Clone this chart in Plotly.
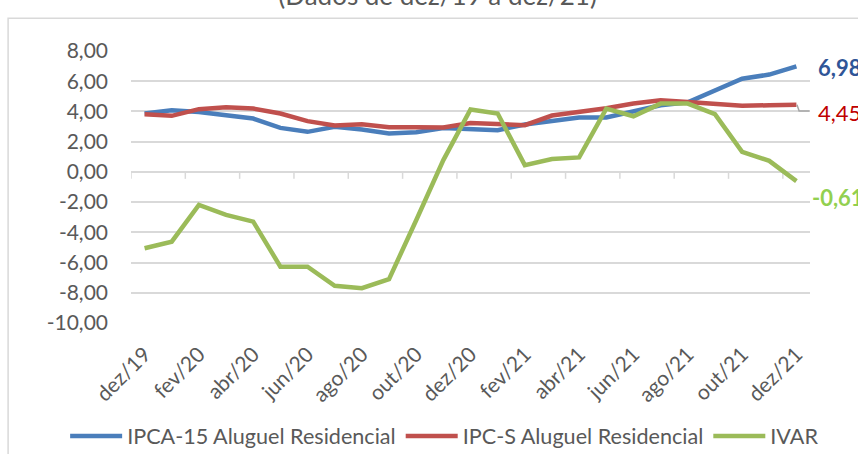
import plotly.graph_objects as go

months = ["dez/19","jan/20","fev/20","mar/20","abr/20","mai/20","jun/20","jul/20","ago/20","set/20",
          "out/20","nov/20","dez/20","jan/21","fev/21","mar/21","abr/21","mai/21","jun/21","jul/21",
          "ago/21","set/21","out/21","nov/21","dez/21"]
tick_labels = months[::2]

ipca15 = [3.86, 4.08, 3.97, 3.75, 3.53, 2.91, 2.65, 2.98, 2.80, 2.54, 2.63, 2.91, 2.80, 2.76,
          3.13, 3.38, 3.60, 3.60, 3.97, 4.41, 4.61, 5.40, 6.17, 6.44, 6.98]
ipcs = [3.82, 3.71, 4.15, 4.28, 4.19, 3.86, 3.36, 3.07, 3.16, 2.96, 2.96, 2.94, 3.24, 3.13,
        3.09, 3.73, 3.95, 4.21, 4.52, 4.74, 4.63, 4.52, 4.37, 4.41, 4.45]
ivar = [-5.05, -4.62, -2.19, -2.85, -3.29, -6.27, -6.27, -7.54, -7.70, -7.10, -3.20, 0.78, 4.13, 3.86,
        0.45, 0.85, 0.96, 4.19, 3.68, 4.52, 4.52, 3.82, 1.33, 0.73, -0.61]

series_names = ["IPCA-15 Aluguel Residencial", "IPC-S Aluguel Residencial", "IVAR"]
series_colors = ["#4A7EBB", "#C0504D", "#9BBB59"]
label_colors = ["#2F5597", "#C00000", "#92D050"]
y_ticks = [8, 6, 4, 2, 0, -2, -4, -6, -8, -10]

FONT = "Lato, 'Noto Sans', sans-serif"
GREY = "#595959"

def br(v):
    return f"{v:.2f}".replace(".", ",")

fig = go.Figure()
for name, vals, col in zip(series_names, [ipca15, ipcs, ivar], series_colors):
    fig.add_trace(go.Scatter(x=months, y=vals, mode="lines", name=name,
                             line=dict(color=col, width=4.5)))

# tick marks on the horizontal axis line (at y=0), between category pairs
for k in range(0, len(months), 2):
    fig.add_shape(type="line", xref="x", yref="y", x0=k - 0.5, x1=k - 0.5, y0=0, y1=-0.46,
                  line=dict(color="#D9D9D9", width=1.5), layer="below")

# end labels
last = len(months) - 1
fig.add_annotation(x=last, y=ipca15[-1], text="<b>" + br(ipca15[-1]) + "</b>",
                   showarrow=False, xanchor="left", xshift=20, yshift=-1,
                   font=dict(family=FONT, size=22, color=label_colors[0]))
fig.add_annotation(x=last, y=ipcs[-1], text=br(ipcs[-1]),
                   showarrow=False, xanchor="left", xshift=20, yshift=-8,
                   font=dict(family=FONT, size=22, color=label_colors[1]))
fig.add_annotation(x=last, y=ivar[-1], text="<b>" + br(ivar[-1]) + "</b>",
                   showarrow=False, xanchor="left", xshift=14, yshift=-16,
                   font=dict(family=FONT, size=22, color=label_colors[2]))
# leader line for IPC-S label
yl = ipcs[-1]
fig.add_shape(type="path", xref="x", yref="y",
              path=f"M {last+0.02},{yl} L {last+0.1},{yl-0.42} L {last+0.48},{yl-0.42}",
              line=dict(color="#A6A6A6", width=1.5))

# chart-area border
fig.add_shape(type="rect", xref="paper", yref="paper", x0=-0.181, x1=1.3, y0=-0.7, y1=1.12,
              line=dict(color="#D9D9D9", width=1.5), fillcolor="rgba(0,0,0,0)", layer="below")

fig.update_layout(
    width=858, height=454,
    margin=dict(l=131, r=48, t=51, b=131, autoexpand=False),
    paper_bgcolor="white", plot_bgcolor="white",
    font=dict(family=FONT, color=GREY, size=21),
    title=dict(text="(Dados de dez/19 a dez/21)", x=0.51, xanchor="center",
               y=1 - 5 / 454, yanchor="bottom", font=dict(family=FONT, size=26, color=GREY)),
    showlegend=True,
    legend=dict(orientation="h", x=-0.097, xanchor="left", y=-0.417, yanchor="middle",
                font=dict(family=FONT, size=21.6, color=GREY), itemwidth=52,
                bgcolor="rgba(0,0,0,0)"),
    xaxis=dict(type="category", range=[-0.5, len(months) - 0.5], tickmode="array",
               tickvals=tick_labels, ticktext=tick_labels, tickangle=-45,
               showgrid=False, zeroline=False, showline=False, ticks="",
               ticklabelstandoff=14, automargin=False,
               tickfont=dict(family=FONT, size=21, color=GREY)),
    yaxis=dict(range=[-10, 8], tickvals=y_ticks,
               ticktext=[br(v) for v in y_ticks],
               showgrid=True, gridcolor="#D9D9D9", gridwidth=1.5, zeroline=False,
               showline=False, ticks="", ticklabelstandoff=22, automargin=False,
               tickfont=dict(family=FONT, size=21, color=GREY)),
)

fig.write_html("out.html", config={"displayModeBar": False},
               post_script="document.body.style.margin='0px';document.body.style.overflow='hidden';")
